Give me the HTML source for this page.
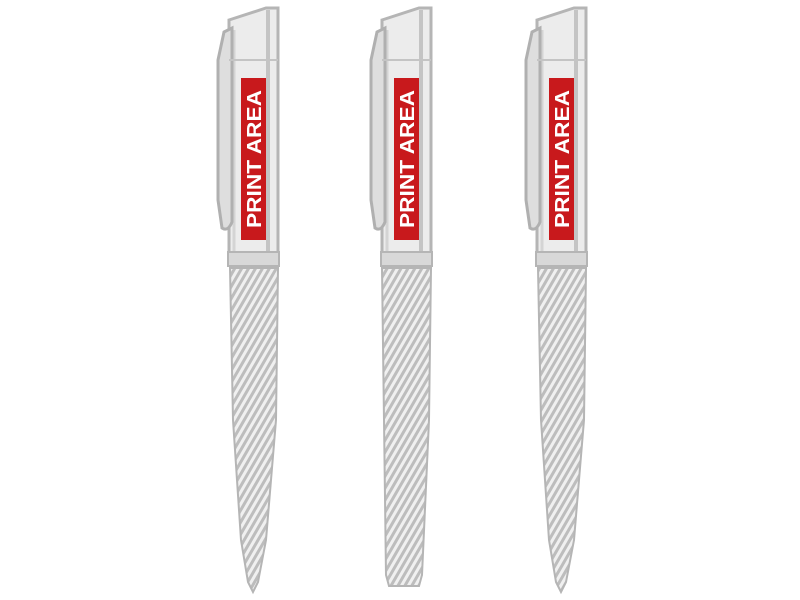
<!DOCTYPE html>
<html><head><style>body{margin:0;background:#fff}svg{display:block}</style></head><body>
<svg width="800" height="600" viewBox="0 0 800 600" xmlns="http://www.w3.org/2000/svg">
<defs>
<pattern id="h" width="6" height="6" patternUnits="userSpaceOnUse" patternTransform="rotate(30)">
<rect width="6" height="6" fill="#f0f0f0"/><rect width="3" height="6" fill="#bdbdbd"/></pattern>
<g id="cap">
<path d="M229,20 L266,8 L278,8 L278,258 L229,258 Z" fill="#ececec" stroke="#b5b5b5" stroke-width="3"/>
<line x1="268" y1="10" x2="268" y2="256" stroke="#c4c4c4" stroke-width="4"/>
<line x1="234" y1="30" x2="234" y2="256" stroke="#d4d4d4" stroke-width="3"/>
<path d="M224,32 L232,28 L232,222 Q228,232 222,228 L218,200 L218,60 Z" fill="#dedede" stroke="#b0b0b0" stroke-width="3"/>
<line x1="229" y1="60" x2="278" y2="60" stroke="#c4c4c4" stroke-width="2"/>
<rect x="228" y="252" width="51" height="14" fill="#d8d8d8" stroke="#b5b5b5" stroke-width="2"/>
<rect x="241" y="78" width="25" height="162" fill="#c8191c"/>
<text transform="translate(261,159) rotate(-90)" text-anchor="middle" font-family="Liberation Sans, sans-serif" font-weight="bold" font-size="20" textLength="138" lengthAdjust="spacingAndGlyphs" fill="#fff">PRINT AREA</text>
</g>
</defs>
<use href="#cap"/>
<path d="M230,268 L278,268 L276,420 L266,540 L258,582 L253,592 L248,582 L241,540 L233,420 Z" fill="url(#h)" stroke="#b5b5b5" stroke-width="2"/>
<use href="#cap" x="153"/>
<path d="M382,268 L431,268 L429,420 L422,575 L419,586 L389,586 L386,575 L384,420 Z" fill="url(#h)" stroke="#b5b5b5" stroke-width="2"/>
<use href="#cap" x="308"/>
<path d="M538,268 L586,268 L584,420 L574,540 L566,582 L561,592 L556,582 L549,540 L541,420 Z" fill="url(#h)" stroke="#b5b5b5" stroke-width="2"/>
</svg>
</body></html>
